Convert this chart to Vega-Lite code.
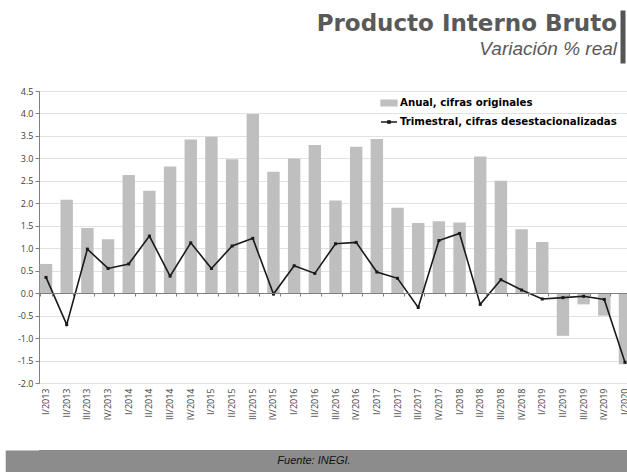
{
  "$schema": "https://vega.github.io/schema/vega-lite/v6.json",
  "padding": {"left": 5, "top": 10, "right": 0, "bottom": 0},
  "background": "white",
  "datasets": {
    "pib": [
      {"periodo": "I/2013", "anual": 0.65, "trimestral": 0.35},
      {"periodo": "II/2013", "anual": 2.08, "trimestral": -0.7},
      {"periodo": "III/2013", "anual": 1.45, "trimestral": 0.98},
      {"periodo": "IV/2013", "anual": 1.2, "trimestral": 0.55},
      {"periodo": "I/2014", "anual": 2.63, "trimestral": 0.65},
      {"periodo": "II/2014", "anual": 2.28, "trimestral": 1.27},
      {"periodo": "III/2014", "anual": 2.82, "trimestral": 0.38},
      {"periodo": "IV/2014", "anual": 3.42, "trimestral": 1.12},
      {"periodo": "I/2015", "anual": 3.48, "trimestral": 0.55},
      {"periodo": "II/2015", "anual": 2.98, "trimestral": 1.05},
      {"periodo": "III/2015", "anual": 3.99, "trimestral": 1.22},
      {"periodo": "IV/2015", "anual": 2.7, "trimestral": -0.02},
      {"periodo": "I/2016", "anual": 3.0, "trimestral": 0.61},
      {"periodo": "II/2016", "anual": 3.3, "trimestral": 0.44},
      {"periodo": "III/2016", "anual": 2.06, "trimestral": 1.1},
      {"periodo": "IV/2016", "anual": 3.26, "trimestral": 1.13},
      {"periodo": "I/2017", "anual": 3.43, "trimestral": 0.47},
      {"periodo": "II/2017", "anual": 1.9, "trimestral": 0.33},
      {"periodo": "III/2017", "anual": 1.56, "trimestral": -0.32},
      {"periodo": "IV/2017", "anual": 1.6, "trimestral": 1.17},
      {"periodo": "I/2018", "anual": 1.57, "trimestral": 1.33},
      {"periodo": "II/2018", "anual": 3.04, "trimestral": -0.25},
      {"periodo": "III/2018", "anual": 2.5, "trimestral": 0.3},
      {"periodo": "IV/2018", "anual": 1.42, "trimestral": 0.07},
      {"periodo": "I/2019", "anual": 1.14, "trimestral": -0.13},
      {"periodo": "II/2019", "anual": -0.95, "trimestral": -0.1},
      {"periodo": "III/2019", "anual": -0.25, "trimestral": -0.07},
      {"periodo": "IV/2019", "anual": -0.5, "trimestral": -0.14},
      {"periodo": "I/2020", "anual": -1.58, "trimestral": -1.54}
    ]
  },
  "align": "none",
  "spacing": 24,
  "resolve": {"scale": {"color": "independent"}, "legend": {"color": "independent"}},
  "vconcat": [
    {
      "width": 586,
      "height": 53,
      "view": {"stroke": null},
      "title": {
        "text": "Producto Interno Bruto",
        "subtitle": "Variación % real",
        "anchor": "end",
        "font": "DejaVu Sans",
        "fontSize": 23,
        "fontWeight": "bold",
        "color": "#595959",
        "subtitleFont": "Liberation Sans",
        "subtitleFontStyle": "italic",
        "subtitleFontSize": 19,
        "subtitleColor": "#595959",
        "subtitlePadding": 4,
        "offset": -49,
        "dx": -8
      },
      "data": {"values": [{"t": ""}]},
      "mark": {"type": "text"},
      "encoding": {
        "text": {"field": "t"},
        "y": {
          "field": "t", "type": "nominal",
          "axis": {
            "orient": "right", "title": null, "labels": false, "ticks": false, "grid": false,
            "domain": true, "domainWidth": 5, "domainColor": "#555555", "offset": -2.5
          }
        }
      }
    },
    {
      "width": 593,
      "height": 292,
      "view": {"stroke": null},
      "data": {"name": "pib"},
      "layer": [
        {
          "mark": {"type": "bar", "color": "#bfbfbf"},
          "encoding": {
            "x": {
              "field": "periodo", "type": "ordinal", "sort": null,
              "scale": {"paddingInner": 0.4, "paddingOuter": 0.04},
              "axis": {
                "title": null, "orient": "bottom", "labelAngle": -90,
                "domain": false, "ticks": false, "grid": false,
                "labelFont": "Open Sans", "labelFontSize": 9, "labelColor": "#404040",
                "labelPadding": 5, "minExtent": 43
              }
            },
            "y": {
              "field": "anual", "type": "quantitative",
              "scale": {"domain": [-2, 4.5], "nice": false, "zero": false},
              "axis": {
                "title": null,
                "values": [-2, -1.5, -1, -0.5, 0, 0.5, 1, 1.5, 2, 2.5, 3, 3.5, 4, 4.5],
                "labelExpr": "replace(format(datum.value, '.1f'), '\u2212', '-')",
                "labelOverlap": false,
                "grid": true, "gridDash": [1, 1], "gridColor": "#c4c4c4",
                "domainColor": "#808080", "tickColor": "#808080", "tickSize": 4,
                "labelFont": "Open Sans", "labelFontSize": 9, "labelColor": "#404040",
                "labelPadding": 2, "minExtent": 33.8
              }
            },
            "color": {
              "datum": "Anual, cifras originales",
              "scale": {
                "domain": ["Anual, cifras originales", "Trimestral, cifras desestacionalizadas"],
                "range": ["#bfbfbf", "#1a1a1a"]
              },
              "legend": {
                "orient": "none", "legendX": 341, "legendY": 3, "title": null,
                "padding": 0, "labelLimit": 400,
                "labelFont": "DejaVu Sans", "labelFontSize": 10.2, "labelFontWeight": "bold",
                "labelColor": "#000000", "symbolSize": 256, "rowPadding": 4, "labelOffset": 2,
                "encode": {
                  "symbols": {
                    "update": {
                      "shape": {"signal": "datum.value === 'Anual, cifras originales' ? 'M-1,-0.35H1V0.35H-1Z' : 'M-1,0H1M-0.15,-0.15H0.15V0.15H-0.15Z'"},
                      "fill": {"signal": "datum.value === 'Anual, cifras originales' ? '#bfbfbf' : '#1a1a1a'"},
                      "stroke": {"signal": "datum.value === 'Anual, cifras originales' ? 'transparent' : '#1a1a1a'"},
                      "strokeWidth": {"value": 1.3},
                      "opacity": {"value": 1}
                    }
                  }
                }
              }
            }
          }
        },
        {
          "mark": {"type": "line", "strokeWidth": 1.6, "point": {"shape": "square", "size": 9, "filled": true}},
          "encoding": {
            "x": {
              "field": "periodo", "type": "ordinal", "sort": null,
              "axis": {
                "title": null, "orient": "bottom", "offset": -90, "labels": false,
                "domain": true, "domainColor": "#7f7f7f", "ticks": true, "tickBand": "extent",
                "tickSize": 3, "tickColor": "#7f7f7f", "grid": false, "zindex": 1
              }
            },
            "y": {
              "field": "trimestral", "type": "quantitative",
              "axis": {
                "title": null,
                "values": [-2, -1.5, -1, -0.5, 0, 0.5, 1, 1.5, 2, 2.5, 3, 3.5, 4, 4.5],
                "labelExpr": "replace(format(datum.value, '.1f'), '\u2212', '-')",
                "labelOverlap": false,
                "grid": true, "gridDash": [1, 1], "gridColor": "#c4c4c4",
                "domainColor": "#808080", "tickColor": "#808080", "tickSize": 4,
                "labelFont": "Open Sans", "labelFontSize": 9, "labelColor": "#404040",
                "labelPadding": 2, "minExtent": 33.8
              }
            },
            "color": {"datum": "Trimestral, cifras desestacionalizadas"}
          }
        }
      ],
      "resolve": {"axis": {"x": "independent"}}
    },
    {
      "width": 588,
      "height": 22,
      "view": {"fill": "#8c8c8c", "stroke": null},
      "data": {"values": [{"fuente": "Fuente: INEGI."}]},
      "mark": {"type": "text", "font": "Liberation Sans", "fontStyle": "italic", "fontSize": 11, "color": "#111111", "dx": -19},
      "encoding": {
        "text": {"field": "fuente"},
        "y": {
          "field": "fuente", "type": "nominal",
          "axis": {
            "orient": "left", "title": null, "labels": false, "ticks": false, "grid": false,
            "domain": true, "domainWidth": 33.8, "domainColor": "#8c8c8c", "offset": 16.9
          }
        }
      }
    }
  ]
}
